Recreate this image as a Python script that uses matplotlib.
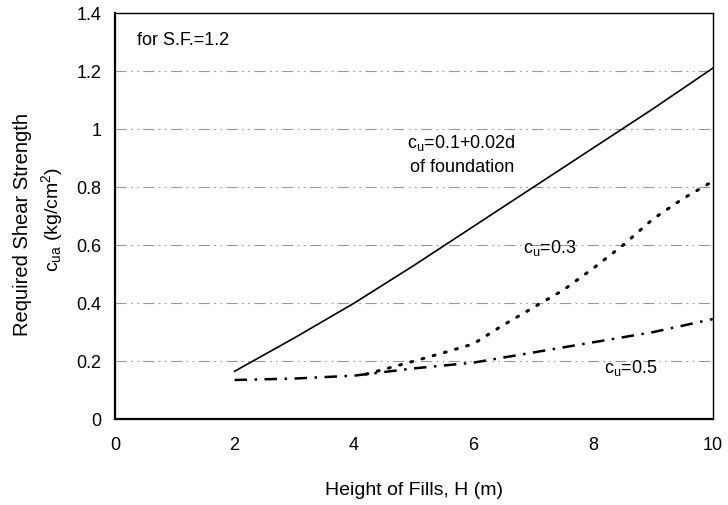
import matplotlib.pyplot as plt

plt.rcParams['font.family'] = ['Liberation Sans', 'DejaVu Sans']
plt.rcParams['mathtext.fontset'] = 'custom'
plt.rcParams['mathtext.rm'] = 'Liberation Sans'
plt.rcParams['mathtext.it'] = 'Liberation Sans'

# Height of fills H (m) against required strength c_ua (kg/cm2)
h_found = [2, 3, 4, 5, 6, 7, 8, 9, 10]
cu_found = [0.165, 0.28, 0.40, 0.53, 0.665, 0.80, 0.935, 1.07, 1.21]

h_03 = [4.2, 5, 5.6, 6, 6.5, 7, 7.5, 8, 8.5, 9, 9.5, 10]
cu_03 = [0.155, 0.20, 0.235, 0.26, 0.325, 0.385, 0.445, 0.52, 0.60, 0.69, 0.76, 0.82]

h_05 = [2, 3, 4, 5, 6, 7, 8, 9, 10]
cu_05 = [0.135, 0.14, 0.15, 0.175, 0.195, 0.23, 0.265, 0.30, 0.345]

x_ticks = [0, 2, 4, 6, 8, 10]
y_ticks = [0, 0.2, 0.4, 0.6, 0.8, 1, 1.2, 1.4]
y_tick_labels = ['0', '0.2', '0.4', '0.6', '0.8', '1', '1.2', '1.4']

fs = 13

fig = plt.figure(figsize=(7.28, 5.05), dpi=100)
ax = fig.add_axes([0.158, 0.170, 0.821, 0.804])

# horizontal grid, dash-dot-dot
for y in y_ticks[1:-1]:
    ax.axhline(y, color='#999999', lw=0.8, ls=(0, (10, 4, 1.5, 4, 1.5, 4)), zorder=1)

ax.plot(h_found, cu_found, color='black', lw=1.2, zorder=3)
ax.plot(h_03, cu_03, color='black', lw=2.2, ls=(0, (0.6, 3.2)),
        dash_capstyle='round', zorder=3)
ax.plot(h_05, cu_05, color='black', lw=1.8, ls=(0, (5, 3, 1, 3)), zorder=3)

ax.set_xlim(0, 10)
ax.set_ylim(0, 1.4)
ax.set_xticks(x_ticks)
ax.set_yticks(y_ticks)
ax.set_yticklabels(y_tick_labels)
ax.tick_params(length=0, labelsize=fs, pad=10)
ax.tick_params(axis='x', pad=13)

for side in ['left', 'bottom']:
    ax.spines[side].set_linewidth(1.6)
for side in ['top', 'right']:
    ax.spines[side].set_linewidth(1.0)

ax.text(0.37, 1.307, 'for S.F.=1.2', fontsize=fs, ha='left', va='center')
ax.text(5.8, 0.952, 'c$_u$=0.1+0.02d', fontsize=fs, ha='center', va='center')
ax.text(5.8, 0.866, 'of foundation', fontsize=fs, ha='center', va='center')
ax.text(7.27, 0.59, 'c$_u$=0.3', fontsize=fs, ha='center', va='center')
ax.text(8.62, 0.178, 'c$_u$=0.5', fontsize=fs, ha='center', va='center')

ax.set_xlabel('Height of Fills, H (m)', fontsize=14, labelpad=20)
fig.text(0.031, 0.555, 'Required Shear Strength', rotation=90, fontsize=14.5,
         ha='center', va='center')
fig.text(0.072, 0.565, 'c$_{ua}$ (kg/cm$^2$)', rotation=90, fontsize=14,
         ha='center', va='center')

fig.savefig('out.png', dpi=100)
